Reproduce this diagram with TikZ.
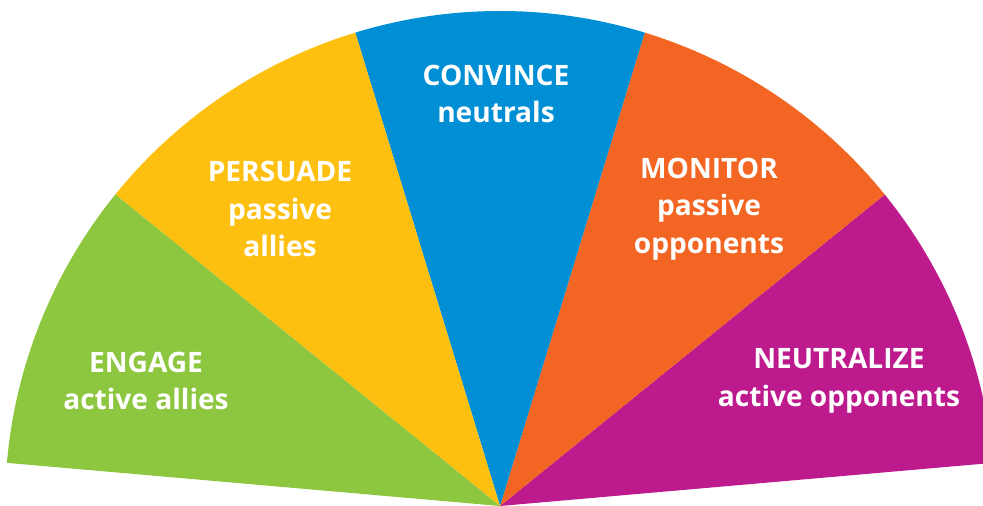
\documentclass[tikz,border=0pt]{standalone}
\usepackage{fontspec}
\setmainfont{Open Sans}

\definecolor{engagegreen}{HTML}{8DC63F}
\definecolor{persuadeyellow}{HTML}{FDC010}
\definecolor{convinceblue}{HTML}{008FD5}
\definecolor{monitororange}{HTML}{F26522}
\definecolor{neutralizepurple}{HTML}{BD1A8D}

\def\fanrad{495}

\begin{document}
\begin{tikzpicture}[x=0.02cm,y=0.02cm]
    \tikzstyle{wedgetext}=[text=white, align=center, font=\bfseries\fontsize{16}{21.5}\selectfont]

    \useasboundingbox (0,0) rectangle (983,506);

    % Draw the wedges of the fan
    \foreach \start/\stop/\col in {5/39/neutralizepurple, 39/73/monitororange,
        73/107/convinceblue, 107/141/persuadeyellow, 141/175/engagegreen}
        \fill[\col] (500,0) -- ++(\start:\fanrad)
            arc[start angle=\start, end angle=\stop, radius=\fanrad] -- cycle;

    % Annotate the wedges
    \node[wedgetext] (engage) at (146,125) {ENGAGE\\active allies};
    \node[wedgetext] (persuade) at (280,297) {PERSUADE\\passive\\allies};
    \node[wedgetext] (convince) at (496,412) {CONVINCE\\neutrals};
    \node[wedgetext] (monitor) at (709,297) {MONITOR\\passive\\opponents};
    \node[wedgetext] (neutralize) at (839,125) {NEUTRALIZE\\active opponents};
\end{tikzpicture}
\end{document}
